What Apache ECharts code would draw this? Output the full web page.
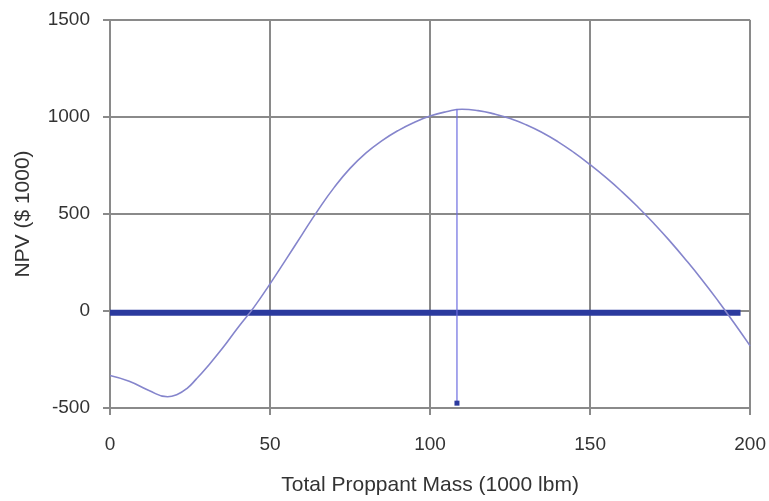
<!DOCTYPE html>
<html>
<head>
<meta charset="utf-8">
<script src="https://cdn.jsdelivr.net/npm/echarts@6/dist/echarts.min.js"></script>
<style>html,body{margin:0;padding:0;background:#fff}#c{width:769px;height:501px}</style>
</head>
<body>
<div id="c"></div>
<script>
// NPV curve: total proppant mass (1000 lbm) vs NPV ($1000)
var massX = [0, 6, 12, 18, 21, 24, 27, 30, 35, 40, 45, 50, 55, 60, 65, 70, 75, 80, 85, 90, 95, 100, 105, 110, 115, 120, 125, 130, 135, 140, 145, 150, 155, 160, 165, 170, 175, 180, 185, 190, 195, 200];
var npvY  = [-332, -362, -408, -442, -430, -400, -350, -295, -195, -85, 20, 140, 266, 394, 520, 636, 735, 815, 878, 930, 972, 1005, 1027, 1040, 1033, 1016, 992, 960, 920, 872, 816, 754, 687, 614, 535, 450, 359, 262, 160, 52, -62, -180];
// zero (reference) line
var zeroX = [0, 197];
var zeroY = [-9, -9];
// optimum marker line
var optX = [108.4, 108.4];
var optY = [1040, -475];
// axis ticks
var xTicks = [0, 50, 100, 150, 200];
var yTicks = [-500, 0, 500, 1000, 1500];

function pairs(xs, ys){ return xs.map(function(x,i){ return [x, ys[i]]; }); }

var chart = echarts.init(document.getElementById('c'), null, {renderer:'canvas'});
var fontFam = '"Liberation Sans", Arial, sans-serif';
var gridColor = '#8a8a8a';
var txt = '#333333';
chart.setOption({
  backgroundColor: '#ffffff',
  animation: false,
  grid: {left: 110, right: 16, top: 20, bottom: 91, containLabel: false},
  xAxis: {
    type: 'value', min: xTicks[0], max: xTicks[xTicks.length-1], interval: 50,
    name: 'Total Proppant Mass (1000 lbm)', nameLocation: 'middle', nameGap: 67,
    nameTextStyle: {fontFamily: fontFam, fontSize: 21, color: txt},
    axisLine: {show: true, onZero: false, lineStyle: {color: gridColor, width: 2}},
    axisTick: {show: true, length: 7, lineStyle: {color: gridColor, width: 2}},
    axisLabel: {margin: 27, fontFamily: fontFam, fontSize: 19, color: txt,
      formatter: function(v){ return String(v); }},
    splitLine: {show: true, lineStyle: {color: gridColor, width: 2}}
  },
  yAxis: {
    type: 'value', min: yTicks[0], max: yTicks[yTicks.length-1], interval: 500,
    name: 'NPV ($ 1000)', nameLocation: 'middle', nameGap: 76,
    nameTextStyle: {fontFamily: fontFam, fontSize: 21, color: txt},
    axisLine: {show: true, onZero: false, lineStyle: {color: gridColor, width: 2}},
    axisTick: {show: true, length: 7, lineStyle: {color: gridColor, width: 2}},
    axisLabel: {margin: 20, fontFamily: fontFam, fontSize: 19, color: txt,
      formatter: function(v){ return String(v); }},
    splitLine: {show: true, lineStyle: {color: gridColor, width: 2}}
  },
  series: [
    {
      type: 'line', data: pairs(zeroX, zeroY), showSymbol: false, symbol: 'none',
      lineStyle: {color: '#2b3a9e', width: 6}, z: 3
    },
    {
      type: 'line', data: pairs(massX, npvY), smooth: 0.5,
      showSymbol: false, symbol: 'none',
      lineStyle: {color: '#8585cc', width: 1.6}, z: 4
    },
    {
      type: 'line', symbol: 'rect', showSymbol: true,
      data: pairs(optX, optY).map(function(p, i){ return {value: p, symbolSize: i === 1 ? 5 : 0}; }),
      itemStyle: {color: '#2b3a9e'},
      lineStyle: {color: '#6c6ce0', width: 1.2}, z: 5
    }
  ]
});
</script>
</body>
</html>
